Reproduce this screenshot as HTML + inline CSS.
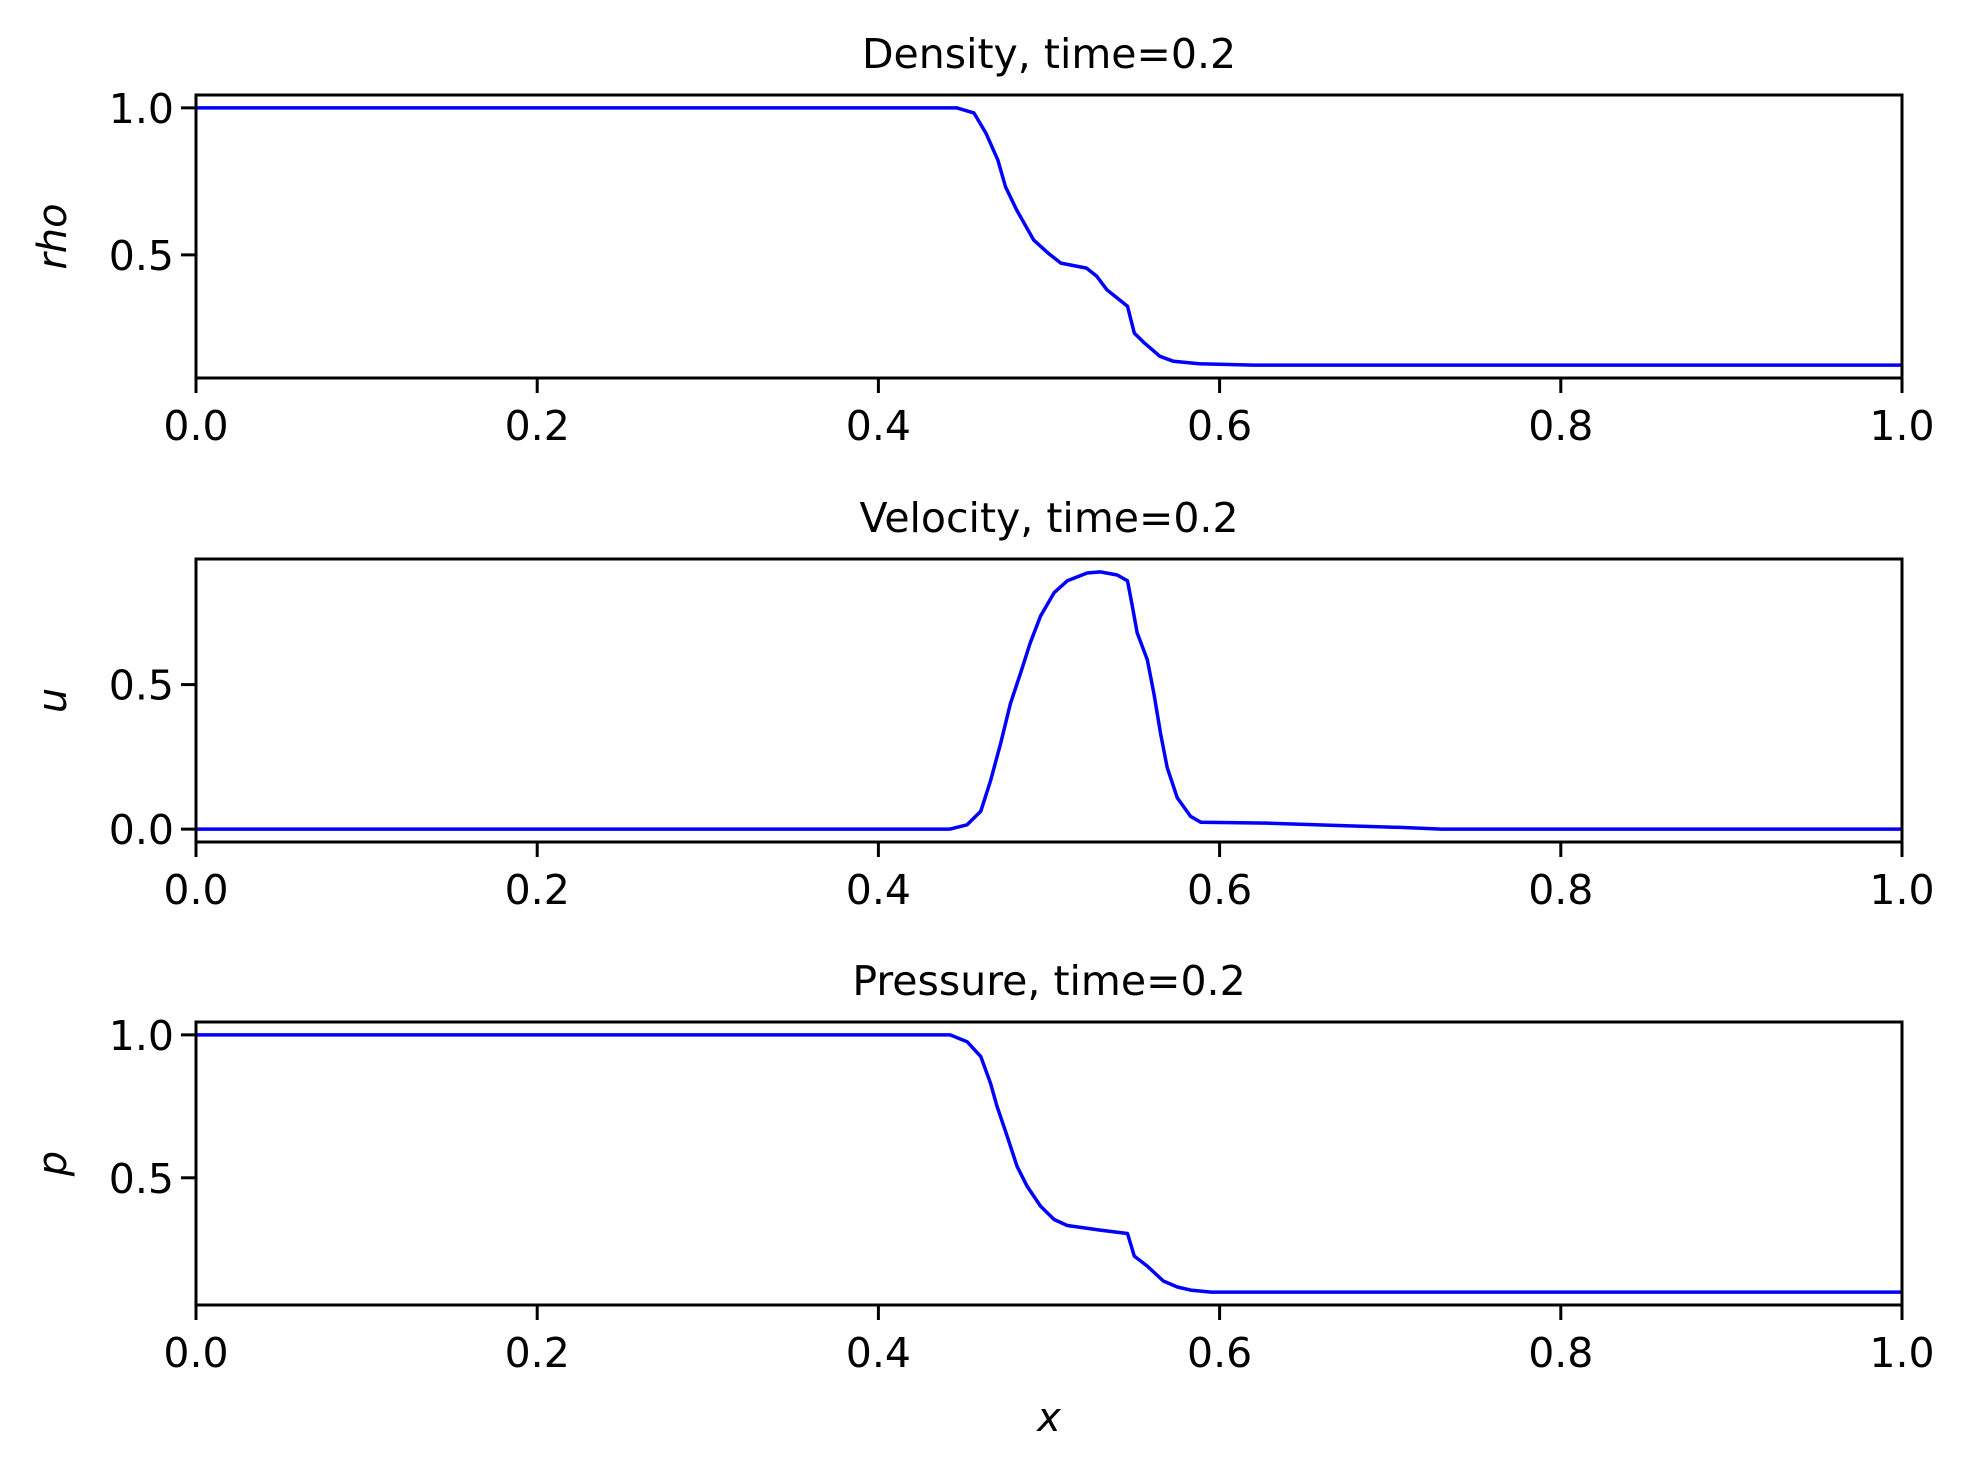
<!DOCTYPE html>
<html><head><meta charset="utf-8"><style>
html,body{margin:0;padding:0;background:#fff;}
svg{display:block;font-family:"DejaVu Sans","Liberation Sans",sans-serif;}
</style></head><body>
<svg id="fig" width="1969" height="1478" viewBox="0 0 1969 1478"></svg>
<script>
const xTicks=[0.0,0.2,0.4,0.6,0.8,1.0];
const xTickLabels=["0.0","0.2","0.4","0.6","0.8","1.0"];
const rhoX=[0,0.446,0.456,0.463,0.470,0.4745,0.481,0.491,0.4995,0.507,0.522,0.528,0.534,0.546,0.550,0.556,0.565,0.573,0.588,0.62,1.0];
const rhoY=[1.0,1.0,0.983,0.914,0.823,0.732,0.653,0.551,0.506,0.472,0.455,0.427,0.381,0.325,0.234,0.200,0.155,0.138,0.130,0.125,0.125];
const uX=[0,0.442,0.452,0.460,0.4657,0.4716,0.4774,0.4833,0.489,0.495,0.503,0.5107,0.5224,0.530,0.540,0.546,0.5488,0.5517,0.5576,0.5615,0.5654,0.5693,0.5752,0.583,0.5889,0.628,0.667,0.706,0.73,1.0];
const uY=[0,0,0.015,0.062,0.167,0.295,0.434,0.539,0.644,0.737,0.818,0.859,0.886,0.890,0.879,0.859,0.772,0.679,0.586,0.469,0.330,0.213,0.108,0.044,0.024,0.021,0.013,0.006,0.0,0.0];
const pX=[0,0.442,0.452,0.460,0.4657,0.4696,0.4755,0.4813,0.4872,0.495,0.503,0.5107,0.530,0.546,0.550,0.5576,0.567,0.5752,0.583,0.595,1.0];
const pY=[1.0,1.0,0.976,0.924,0.831,0.749,0.645,0.540,0.470,0.401,0.354,0.333,0.317,0.305,0.226,0.191,0.139,0.118,0.107,0.1,0.1];
const rhoTicks=[0.5,1.0], uTicks=[0.0,0.5], pTicks=[0.5,1.0];
const rhoTickLabels=["0.5","1.0"], uTickLabels=["0.0","0.5"], pTickLabels=["0.5","1.0"];

const NS="http://www.w3.org/2000/svg";
const svg=document.getElementById('fig');
function mk(tag,attrs,parent){const e=document.createElementNS(NS,tag);for(const k in attrs)e.setAttribute(k,attrs[k]);(parent||svg).appendChild(e);return e;}
const L=196,R=1902,H=283;
function panel(top,title,ylab,xs,ys,ticks,tickLabels,key){
  const g=mk('g',{});
  
  
  let mn=Math.min(...ys),mx=Math.max(...ys);const m=(mx-mn)*0.05;const y0=mn-m,y1=mx+m;
  const sx=v=>L+(R-L)*v, sy=v=>top+H-(v-y0)/(y1-y0)*H;
  const pts=xs.map((x,i)=>sx(x).toFixed(1)+','+sy(ys[i]).toFixed(1)).join(' ');
  const line=mk('polyline',{points:pts,fill:'none',stroke:'#0000ff','stroke-width':3.5,'stroke-linejoin':'round'},g);
  
  
  const fr=mk('rect',{x:L,y:top,width:R-L,height:H,fill:'none',stroke:'#000','stroke-width':3},g);
  
  
  xTicks.forEach((t,i)=>{
    mk('line',{x1:sx(t),x2:sx(t),y1:top+H,y2:top+H+15,stroke:'#000','stroke-width':3},g);
    const tx=mk('text',{x:sx(t),y:top+H+62,'font-size':41,'text-anchor':'middle',fill:'#000'},g);
    tx.textContent=xTickLabels[i];
    
    
  });
  ticks.forEach((t,i)=>{
    mk('line',{x1:L-15,x2:L,y1:sy(t),y2:sy(t),stroke:'#000','stroke-width':3},g);
    const tx=mk('text',{x:L-22,y:sy(t)+15,'font-size':41,'text-anchor':'end',fill:'#000'},g);
    tx.textContent=tickLabels[i];
    
    
  });
  const tt=mk('text',{x:(L+R)/2,y:top-27,'font-size':41,'text-anchor':'middle',fill:'#000'},g);
  tt.textContent=title;
  
  
  const yl=mk('text',{x:0,y:0,'font-size':40,'font-style':'italic','text-anchor':'middle',fill:'#000',transform:`translate(66,${top+H/2}) rotate(-90)`},g);
  yl.textContent=ylab;
  
  
}
panel(95,'Density, time=0.2','rho',rhoX,rhoY,rhoTicks,rhoTickLabels,'density');
panel(559,'Velocity, time=0.2','u',uX,uY,uTicks,uTickLabels,'velocity');
panel(1022,'Pressure, time=0.2','p',pX,pY,pTicks,pTickLabels,'pressure');
const xl=mk('text',{x:(L+R)/2,y:1431,'font-size':40,'font-style':'italic','text-anchor':'middle',fill:'#000'});
xl.textContent='x';


</script>
</body></html>
